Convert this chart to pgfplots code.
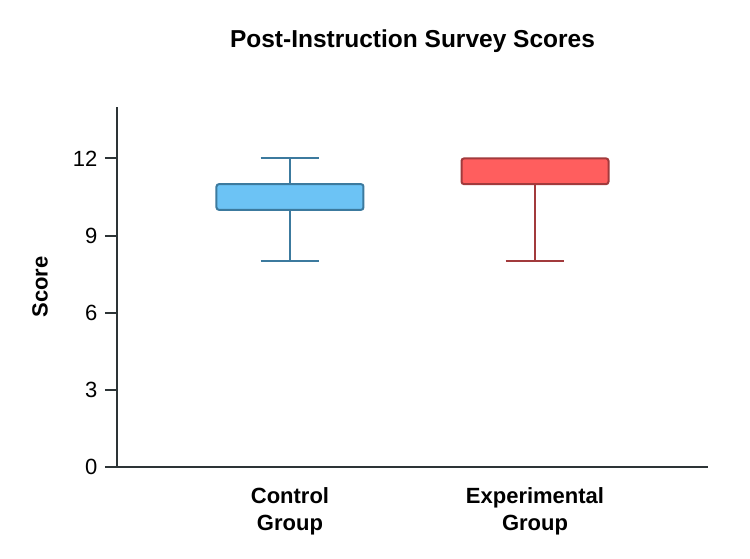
\documentclass[border=0pt]{standalone}
\usepackage{pgfplots}
\pgfplotsset{compat=1.18}
\usepackage{fontspec}
\setmainfont{Liberation Sans}

\definecolor{axisgray}{RGB}{45,52,54}
\definecolor{ctrlfill}{RGB}{108,195,245}
\definecolor{ctrldraw}{RGB}{60,122,158}
\definecolor{expfill}{RGB}{255,94,94}
\definecolor{expdraw}{RGB}{162,58,60}

% five-number summaries: min, Q1, median, Q3, max
% Control group:      8, 10, 10, 11, 12
% Experimental group: 8, 11, 12, 12, 12

\begin{document}
\begin{tikzpicture}
\path[use as bounding box] (-117pt,-92pt) rectangle (633pt,467pt);
\begin{axis}[
  scale only axis,
  width=591pt, height=360pt,
  xmin=0.294, xmax=2.706,
  ymin=0, ymax=14,
  axis lines*=left,
  axis line style={axisgray, line width=2.2pt},
  xtick={1,2},
  xticklabels={Control\\Group, Experimental\\Group},
  xticklabel style={align=center, font=\fontsize{22}{27}\selectfont\bfseries, text=black, yshift=-5pt},
  x tick style={draw=none},
  ytick={0,3,6,9,12},
  yticklabel style={font=\fontsize{22}{24}\selectfont, text=black, xshift=-4pt},
  y tick style={axisgray, line width=2pt},
  tick align=outside,
  major tick length=12pt,
  /pgf/number format/assume math mode=true,
  ylabel={Score},
  ylabel style={at={(axis description cs:-0.130,0.5)}, anchor=center, font=\fontsize{22}{24}\selectfont\bfseries},
  title={Post-Instruction Survey Scores},
  title style={at={(axis description cs:0.5,1)}, anchor=center, yshift=60pt, font=\fontsize{24.5}{28}\selectfont\bfseries},
  clip=false,
]
% Control group: whiskers and caps
\addplot[ctrldraw, line width=2pt] coordinates {(1,8) (1,10)};
\addplot[ctrldraw, line width=2pt] coordinates {(1,11) (1,12)};
\addplot[ctrldraw, line width=2pt] coordinates {(0.88,8) (1.12,8)};
\addplot[ctrldraw, line width=2pt] coordinates {(0.88,12) (1.12,12)};
% Control group: box from Q1 to Q3
\addplot[fill=ctrlfill, draw=ctrldraw, line width=2pt, rounded corners=2.5pt]
  coordinates {(0.7,10) (1.3,10) (1.3,11) (0.7,11)} -- cycle;

% Experimental group: whiskers and caps
\addplot[expdraw, line width=2pt] coordinates {(2,8) (2,11)};
\addplot[expdraw, line width=2pt] coordinates {(1.88,8) (2.12,8)};
% Experimental group: box from Q1 to Q3
\addplot[fill=expfill, draw=expdraw, line width=2pt, rounded corners=2.5pt]
  coordinates {(1.7,11) (2.3,11) (2.3,12) (1.7,12)} -- cycle;
\end{axis}
\end{tikzpicture}
\end{document}
